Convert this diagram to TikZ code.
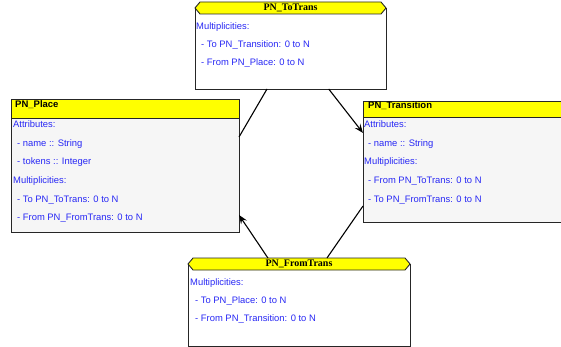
\documentclass[tikz,border=0pt]{standalone}
\usepackage{fontspec}
\setmainfont{Liberation Serif}
\setsansfont{Liberation Sans}
\usetikzlibrary{calc,arrows.meta}
\definecolor{txtblue}{RGB}{40,40,245}
\definecolor{bodygray}{RGB}{246,246,246}
\definecolor{hdryellow}{RGB}{255,255,0}
\tikzset{
  boxbody/.style={inner sep=0pt, outer sep=0pt, anchor=north west, draw=none},
  border/.style={draw=black!85, line width=0.9pt},
  hdr/.style={fill=hdryellow, draw=black!85, line width=0.9pt},
  txt/.style={anchor=base west, inner sep=0pt, text=txtblue, font=\sffamily\fontsize{9.4}{10}\selectfont},
  ttlsans/.style={anchor=base west, inner sep=0pt, font=\sffamily\bfseries\fontsize{9.5}{10}\selectfont},
  ttlserif/.style={anchor=center, inner sep=0pt, font=\bfseries\fontsize{10}{11}\selectfont},
  conn/.style={draw=black, line width=1.1pt},
  arr/.style={-{Stealth[length=9pt,width=7pt,inset=3.5pt]}}
}
\begin{document}
\begin{tikzpicture}[x=1pt,y=-1pt]
\useasboundingbox (0,0) rectangle (561,347);

% ---------- PN_ToTrans ----------
\node[boxbody, fill=white, minimum width=191, minimum height=87] (totrans) at (195,2) {};
\draw[border] (195,8) -- (totrans.south west) -- (totrans.south east) -- (386,8);
\draw[hdr] (195,8) -- (200,2) -- (381,2) -- (386,8) -- (381,14) -- (200,14) -- cycle;
\node[ttlserif] (totranst) at (290.5,8.3) {PN\_ToTrans};
\node[txt] (tt1) at (196,30) {Multiplicities:};
\node[txt] (tt2) at (201,48) {- To PN\_Transition: 0 to N};
\node[txt] (tt3) at (201,66) {- From PN\_Place: 0 to N};

% ---------- PN_Place ----------
\node[boxbody, fill=bodygray, minimum width=228, minimum height=133] (place) at (11,99) {};
\fill[hdryellow] (place.north west) rectangle ($(place.north east)+(0,19)$);
\draw[border] ($(place.north west)+(0,19)$) -- ($(place.north east)+(0,19)$);
\draw[border] (place.north west) rectangle (place.south east);
\node[ttlsans] (placet) at (15,108) {PN\_Place};
\node[txt] (p1) at (13,128) {Attributes:};
\node[txt] (p2) at (17,147) {- name :: String};
\node[txt] (p3) at (17,165) {- tokens :: Integer};
\node[txt] (p4) at (13,183) {Multiplicities:};
\node[txt] (p5) at (17,202) {- To PN\_ToTrans: 0 to N};
\node[txt] (p6) at (17,220) {- From PN\_FromTrans: 0 to N};

% ---------- PN_Transition ----------
\node[boxbody, fill=bodygray, minimum width=198, minimum height=121] (trans) at (363,101) {};
\fill[hdryellow] (trans.north west) rectangle ($(trans.north east)+(0,16)$);
\draw[border] ($(trans.north west)+(0,16)$) -- ($(trans.north east)+(0,16)$);
\draw[border] (trans.north east) -- (trans.north west) -- (trans.south west) -- (trans.south east);
\node[ttlsans] (transt) at (368,108.5) {PN\_Transition};
\node[txt] (r1) at (364,128) {Attributes:};
\node[txt] (r2) at (368,147) {- name :: String};
\node[txt] (r3) at (364,165) {Multiplicities:};
\node[txt] (r4) at (368,183) {- From PN\_ToTrans: 0 to N};
\node[txt] (r5) at (368,202) {- To PN\_FromTrans: 0 to N};

% ---------- PN_FromTrans ----------
\node[boxbody, fill=white, minimum width=222, minimum height=88] (fromtrans) at (188,258) {};
\draw[border] (188,264) -- (fromtrans.south west) -- (fromtrans.south east) -- (410,264);
\draw[hdr] (188,264) -- (193,258) -- (405,258) -- (410,264) -- (405,270) -- (193,270) -- cycle;
\node[ttlserif] (fromtranst) at (299,264.3) {PN\_FromTrans};
\node[txt] (f1) at (190,285) {Multiplicities:};
\node[txt] (f2) at (195,303) {- To PN\_Place: 0 to N};
\node[txt] (f3) at (195,321) {- From PN\_Transition: 0 to N};

% ---------- connectors ----------
\draw[conn] ($(totrans.south west)!0.377!(totrans.south east)$) -- ($(place.north east)!0.286!(place.south east)$);
\draw[conn,arr] ($(totrans.south west)!0.70!(totrans.south east)$) -- ($(trans.north west)!0.264!(trans.south west)$);
\draw[conn,arr] ($(fromtrans.north west)!0.36!(fromtrans.north east)$) -- ($(place.north east)!0.872!(place.south east)$);
\draw[conn] ($(trans.north west)!0.868!(trans.south west)$) -- ($(fromtrans.north west)!0.626!(fromtrans.north east)$);
\end{tikzpicture}
\end{document}
